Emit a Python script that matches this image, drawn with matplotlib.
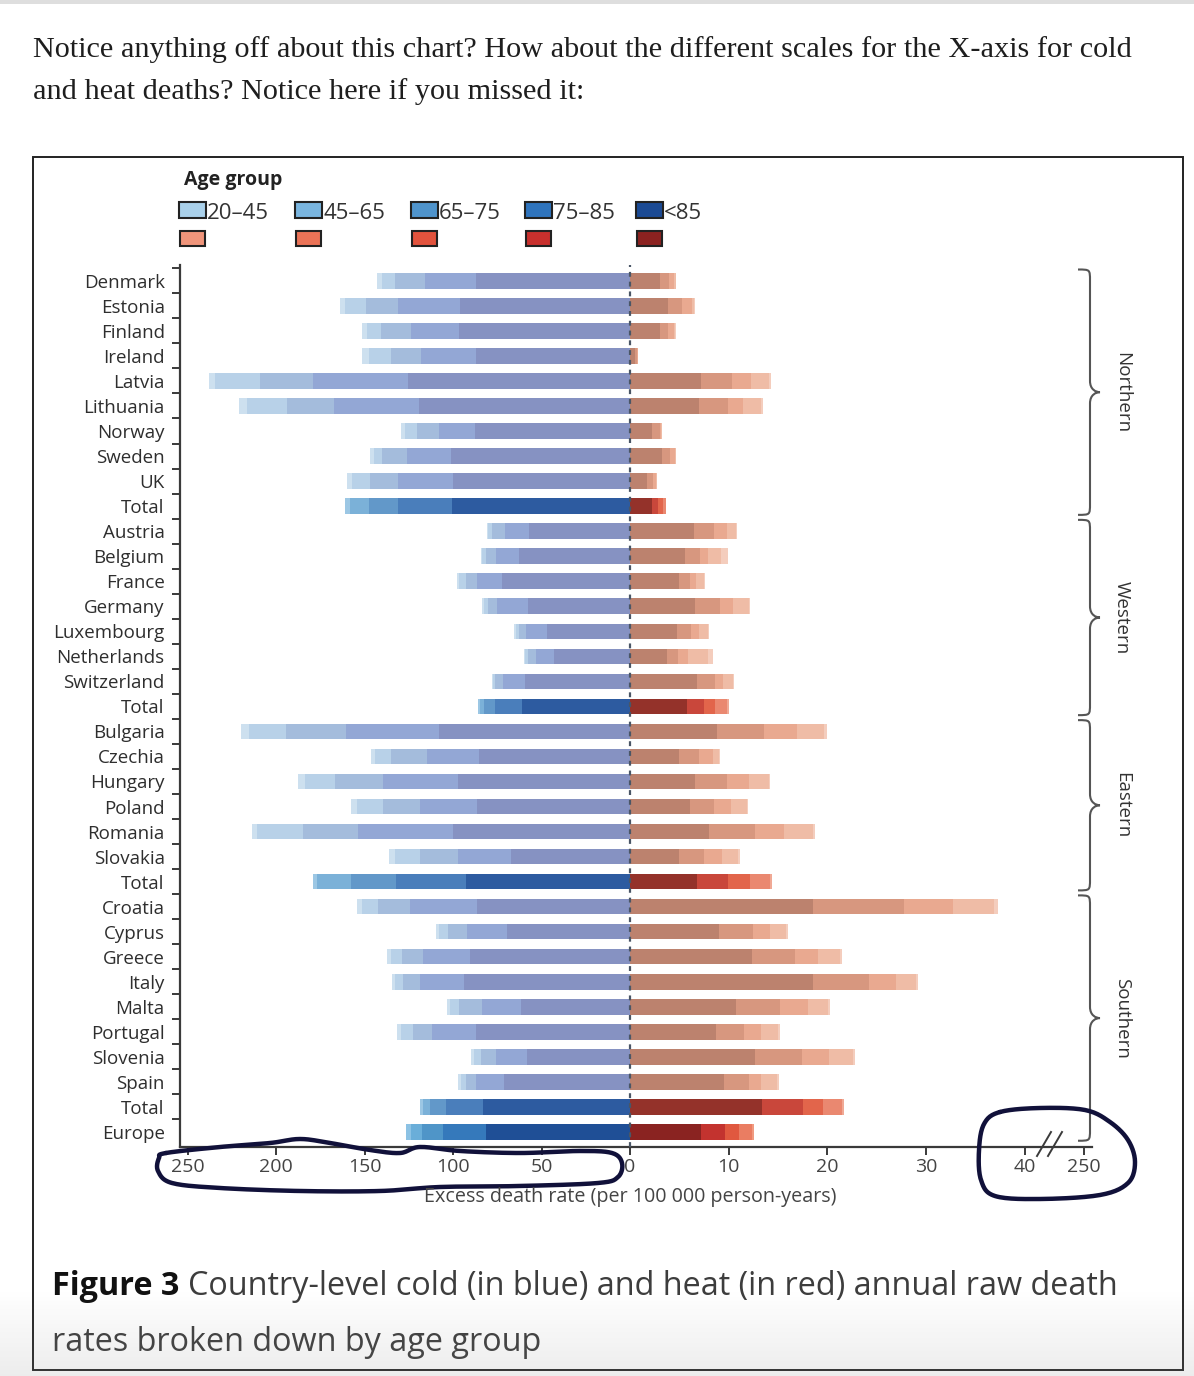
import numpy as np
import matplotlib
matplotlib.use("Agg")
import matplotlib.pyplot as plt
from matplotlib.patches import Rectangle, PathPatch
from matplotlib.path import Path

W, H = 1194, 1376
SANS = ['Open Sans', 'DejaVu Sans']
plt.rcParams['font.family'] = SANS

rows = ["Denmark", "Estonia", "Finland", "Ireland", "Latvia", "Lithuania", "Norway", "Sweden", "UK", "Total",
        "Austria", "Belgium", "France", "Germany", "Luxembourg", "Netherlands", "Switzerland", "Total",
        "Bulgaria", "Czechia", "Hungary", "Poland", "Romania", "Slovakia", "Total",
        "Croatia", "Cyprus", "Greece", "Italy", "Malta", "Portugal", "Slovenia", "Spain", "Total", "Europe"]
kind = ["c"] * 9 + ["t"] + ["c"] * 7 + ["t"] + ["c"] * 6 + ["t"] + ["c"] * 8 + ["t", "e"]

regions = ["Northern", "Western", "Eastern", "Southern"]
region_first = [0, 10, 18, 25]
region_last = [9, 17, 24, 34]

age_groups = ["20\u201345", "45\u201365", "65\u201375", "75\u201385", "<85"]

# cold (blue) excess death rate, per age group
cold_85 = [87.2, 96.1, 96.7, 87.2, 125.3, 119.3, 87.8, 101.4, 99.8, 100.4,
           56.9, 62.7, 72.5, 57.5, 46.7, 43.0, 59.4, 61.2,
           108.0, 85.4, 97.4, 86.7, 100.2, 67.5, 92.7,
           86.3, 69.3, 90.4, 93.8, 61.8, 87.2, 58.4, 71.2, 82.9, 81.4]
cold_75 = [28.7, 34.9, 27.3, 30.7, 54.1, 48.0, 20.2, 24.4, 31.6, 30.5,
           13.8, 13.0, 14.2, 17.5, 12.3, 10.3, 12.2, 15.1,
           52.7, 29.5, 42.0, 32.0, 53.4, 29.5, 39.6,
           38.1, 23.0, 26.8, 24.9, 22.0, 24.5, 17.5, 16.0, 21.3, 24.1]
cold_65 = [16.9, 18.4, 17.0, 17.0, 29.8, 26.4, 12.6, 14.2, 15.5, 16.6,
           7.1, 5.7, 6.2, 5.1, 3.6, 4.2, 4.5, 6.0,
           33.8, 20.4, 27.2, 21.1, 31.4, 21.7, 25.6,
           17.9, 10.4, 11.5, 9.8, 12.7, 10.8, 8.5, 5.7, 8.9, 11.9]
cold_45 = [7.6, 11.5, 7.8, 12.6, 25.2, 23.0, 6.6, 5.0, 10.2, 10.7,
           2.2, 2.0, 3.8, 2.6, 2.0, 1.7, 1.5, 2.4,
           21.0, 8.6, 17.0, 14.6, 25.7, 14.3, 18.8,
           9.3, 5.2, 6.5, 4.2, 5.0, 6.8, 3.8, 2.7, 3.7, 6.6]
cold_20 = [2.5, 3.0, 2.5, 3.8, 3.8, 4.3, 2.0, 2.0, 3.0, 3.0,
           1.0, 1.0, 1.3, 1.0, 0.8, 0.7, 0.5, 1.0,
           4.4, 2.5, 3.9, 3.5, 3.2, 3.0, 2.3,
           2.5, 2.0, 2.0, 1.7, 1.8, 2.2, 1.7, 1.4, 1.9, 2.8]

# heat (red) excess death rate, per age group
heat_85 = [3.05, 3.87, 3.05, 0.46, 7.21, 6.97, 2.24, 3.26, 1.70, 2.24,
           6.53, 5.62, 4.95, 6.63, 4.78, 3.76, 6.77, 5.75,
           8.83, 5.01, 6.63, 6.09, 7.98, 4.95, 6.77,
           18.58, 8.99, 12.37, 18.58, 10.75, 8.73, 12.71, 9.50, 13.38, 7.21]
heat_75 = [0.88, 1.41, 0.78, 0.25, 3.14, 2.94, 0.78, 0.81, 0.61, 0.58,
           1.93, 1.49, 1.14, 2.50, 1.35, 1.15, 1.79, 1.79,
           4.72, 1.96, 3.18, 2.40, 4.73, 2.56, 3.14,
           9.22, 3.45, 4.39, 5.60, 4.49, 2.80, 4.71, 2.53, 4.12, 2.46]
heat_65 = [0.55, 1.00, 0.60, 0.06, 1.92, 1.56, 0.15, 0.45, 0.32, 0.51,
           1.35, 0.77, 0.61, 1.28, 0.84, 0.95, 0.84, 1.02,
           3.34, 1.42, 2.22, 1.75, 2.94, 1.82, 2.26,
           4.89, 1.75, 2.26, 2.77, 2.80, 1.69, 2.78, 1.25, 2.03, 1.35]
heat_45 = [0.15, 0.22, 0.15, 0.02, 1.85, 1.85, 0.05, 0.12, 0.10, 0.28,
           0.90, 1.35, 0.80, 1.65, 0.95, 2.02, 1.05, 1.30,
           2.80, 0.67, 2.00, 1.60, 2.90, 1.65, 2.00,
           4.22, 1.60, 2.25, 2.00, 2.05, 1.80, 2.40, 1.60, 1.95, 1.38]
heat_20 = [0.05, 0.07, 0.03, 0.00, 0.18, 0.20, 0.00, 0.04, 0.02, 0.05,
           0.11, 0.74, 0.11, 0.14, 0.13, 0.51, 0.13, 0.15,
           0.24, 0.10, 0.20, 0.16, 0.23, 0.18, 0.23,
           0.33, 0.19, 0.22, 0.20, 0.21, 0.19, 0.24, 0.19, 0.18, 0.14]

cold_ticks = [250, 200, 150, 100, 50, 0]
heat_ticks = [10, 20, 30, 40]
heat_break_label = "250"

# colours, innermost (oldest) first
cold_cols = {"c": ["#8692c2", "#93a7d5", "#a4bcdc", "#b8d1e8", "#cde0ef"],
             "t": ["#2d5ba0", "#4a7ebb", "#6298c9", "#7bb1d8", "#9cc7e4"],
             "e": ["#1f4f96", "#3579bb", "#4f95c8", "#6aaed9", "#8cc2e4"]}
heat_cols = {"c": ["#bc826e", "#d7977f", "#e9a990", "#efbca6", "#f4cdbd"],
             "t": ["#94322a", "#c9473b", "#e2654b", "#ea8870", "#f0a995"],
             "e": ["#8a2321", "#c3332f", "#e0583f", "#ea7d62", "#f09a80"]}
legend_blue = ["#a9d0ea", "#7ab6e0", "#4f94cc", "#2f74bd", "#1b4a94"]
legend_red = ["#f0957b", "#eb7357", "#e2533d", "#c8302d", "#8c2220"]

AX = "#3a3a3a"
fig = plt.figure(figsize=(W / 100, H / 100), dpi=100)

top_px, bot_px = 265, 1147
ax_c = fig.add_axes([180 / W, 1 - bot_px / H, 450 / W, (bot_px - top_px) / H])
ax_h = fig.add_axes([630 / W, 1 - bot_px / H, 462 / W, (bot_px - top_px) / H])

y = np.arange(len(rows))
cold = [cold_85, cold_75, cold_65, cold_45, cold_20]
heat = [heat_85, heat_75, heat_65, heat_45, heat_20]
cum_c = np.zeros(len(rows))
cum_h = np.zeros(len(rows))
for j in range(5):
    cc = [cold_cols[k][j] for k in kind]
    hc = [heat_cols[k][j] for k in kind]
    ax_c.barh(y, cold[j], left=cum_c, height=0.62, color=cc, linewidth=0)
    ax_h.barh(y, heat[j], left=cum_h, height=0.62, color=hc, linewidth=0)
    cum_c += np.array(cold[j])
    cum_h += np.array(heat[j])

ylim = (34.6, -0.63)
ax_c.set_xlim(254.4, 0)
ax_c.set_ylim(*ylim)
ax_h.set_xlim(0, 46.8)
ax_h.set_ylim(*ylim)

for ax in (ax_c, ax_h):
    ax.patch.set_visible(False)
    ax.spines["top"].set_visible(False)
    ax.spines["right"].set_visible(False)
    ax.spines["bottom"].set_color(AX)
    ax.spines["bottom"].set_linewidth(1.6)
    ax.tick_params(axis="x", direction="out", length=6, width=1.4, color=AX,
                   labelsize=14, labelcolor="#444444", pad=2)
ax_h.spines["left"].set_visible(False)
ax_c.spines["left"].set_color(AX)
ax_c.spines["left"].set_linewidth(1.6)

ax_c.set_xticks(cold_ticks)
ax_c.set_xticklabels([str(t) for t in cold_ticks])
ax_h.set_xticks(heat_ticks + [46.0])
ax_h.set_xticklabels([str(t) for t in heat_ticks] + [heat_break_label])
ax_h.set_yticks([])

ax_c.set_yticks(y)
ax_c.set_yticklabels(rows)
ax_c.set_yticks(np.arange(-0.5, len(rows) - 0.5), minor=True)
ax_c.tick_params(axis="y", which="major", length=0, pad=11, labelsize=13.5, labelcolor="#2e2e2e")
ax_c.tick_params(axis="y", which="minor", length=5.5, width=1.4, color=AX, direction="out")

ax_h.axvline(0, color="#4a5666", lw=1.6, ls=(0, (2.2, 2.2)), zorder=5, clip_on=False)

# region braces
bx = fig.add_axes([1070 / W, 1 - bot_px / H, 40 / W, (bot_px - top_px) / H])
bx.set_xlim(0, 1)
bx.set_ylim(*ylim)
bx.axis("off")
for name, r0, r1 in zip(regions, region_first, region_last):
    y0, y1 = r0 - 0.45, r1 + 0.35
    ym = (y0 + y1) / 2
    xe, xv, xp, r = 0.2, 0.5, 0.75, 0.45
    verts = [(xe, y0), (xv, y0), (xv, y0), (xv, y0 + r),
             (xv, ym - r),
             (xv, ym - 0.1), (xp - 0.1, ym), (xp, ym),
             (xp - 0.1, ym), (xv, ym + 0.1), (xv, ym + r),
             (xv, y1 - r),
             (xv, y1), (xv, y1), (xe, y1)]
    codes = [Path.MOVETO, Path.CURVE4, Path.CURVE4, Path.CURVE4,
             Path.LINETO,
             Path.CURVE4, Path.CURVE4, Path.CURVE4,
             Path.CURVE4, Path.CURVE4, Path.CURVE4,
             Path.LINETO,
             Path.CURVE4, Path.CURVE4, Path.CURVE4]
    bx.add_patch(PathPatch(Path(verts, codes), fill=False, ec="#555555", lw=1.5, clip_on=False))
    bx.text(1.3, ym, name, rotation=-90, ha="center", va="center", fontsize=13.5,
            color="#333333", clip_on=False)

# overlay in pixel coordinates
ov = fig.add_axes([0, 0, 1, 1], zorder=10)
ov.set_xlim(0, W)
ov.set_ylim(H, 0)
ov.axis("off")
ov.patch.set_visible(False)

SERIF = ["Liberation Serif", "DejaVu Serif"]
ov.add_patch(Rectangle((0, 0), W, 4, color="#dedede", lw=0))
ov.text(33, 57, "Notice anything off about this chart? How about the different scales for the X-axis for cold",
        fontsize=21.8, family=SERIF, color="#1e1e1e", va="baseline")
ov.text(33, 99, "and heat deaths? Notice here if you missed it:",
        fontsize=21.8, family=SERIF, color="#1e1e1e", va="baseline")

ov.add_patch(Rectangle((33, 157), 1150, 1213, fill=False, ec="#222222", lw=1.4))

# legend
ov.text(184, 185, "Age group", fontsize=14, weight="bold", color="#222222", va="baseline")
box_x = [179, 295, 411, 525, 636]
for bxp, lab, cb, cr in zip(box_x, age_groups, legend_blue, legend_red):
    ov.add_patch(Rectangle((bxp, 202), 27, 16, fc=cb, ec="#222222", lw=1.5))
    ov.add_patch(Rectangle((bxp + 1, 231), 25, 15, fc=cr, ec="#222222", lw=1.5))
    ov.text(bxp + 28, 219, lab, fontsize=16, color="#333333", va="baseline")

ov.text(630, 1197, "Excess death rate (per 100 000 person-years)", fontsize=14.2,
        color="#444444", ha="center", va="center")

# axis break marks
ov.plot([1037, 1051], [1156, 1132], color=AX, lw=1.4)
ov.plot([1048, 1062], [1156, 1132], color=AX, lw=1.4)


def smooth_closed(pts, n=14):
    P = np.array(pts, float)
    N = len(P)
    out = []
    t = np.linspace(0, 1, n, endpoint=False)[:, None]
    for i in range(N):
        p0, p1, p2, p3 = P[i - 1], P[i], P[(i + 1) % N], P[(i + 2) % N]
        out.append(0.5 * (2 * p1 + (-p0 + p2) * t + (2 * p0 - 5 * p1 + 4 * p2 - p3) * t ** 2
                          + (-p0 + 3 * p1 - 3 * p2 + p3) * t ** 3))
    out = np.vstack(out)
    return np.vstack([out, out[:1]])


ink = "#11113a"
left_loop = [(166, 1153), (220, 1147), (270, 1143), (300, 1139), (330, 1143), (370, 1150),
             (400, 1153), (420, 1147), (460, 1151), (520, 1153), (580, 1151), (612, 1153),
             (622, 1163), (618, 1177), (598, 1183), (520, 1186), (440, 1187), (380, 1191),
             (300, 1191), (220, 1188), (172, 1183), (158, 1171), (159, 1158)]
right_loop = [(1000, 1112), (1040, 1108), (1085, 1110), (1110, 1122), (1128, 1140), (1135, 1162),
              (1128, 1183), (1100, 1195), (1040, 1199), (995, 1196), (981, 1180), (979, 1150),
              (984, 1124)]
for loop in (left_loop, right_loop):
    s = smooth_closed(loop)
    ov.plot(s[:, 0], s[:, 1], color=ink, lw=3.2, solid_capstyle="round", solid_joinstyle="round")

# caption
renderer = fig.canvas.get_renderer()
t1 = ov.text(52, 1295, "Figure 3 ", fontsize=23.3, weight="bold", color="#111111", va="baseline")
bb = t1.get_window_extent(renderer)
ov.text(bb.x1, 1295, "Country-level cold (in blue) and heat (in red) annual raw death",
        fontsize=23.3, color="#3d3d3d", va="baseline")
ov.text(52, 1351, "rates broken down by age group", fontsize=23.3, color="#3d3d3d", va="baseline")

# bottom page fade
grad = np.zeros((100, 2, 4))
grad[..., :3] = 0.55
grad[..., 3] = np.linspace(0, 0.16, 100)[:, None]
ov.imshow(grad, extent=[0, W, H, 1290], aspect="auto", zorder=20, interpolation="bilinear")
ov.set_xlim(0, W)
ov.set_ylim(H, 0)

fig.savefig("out.png", dpi=100)
